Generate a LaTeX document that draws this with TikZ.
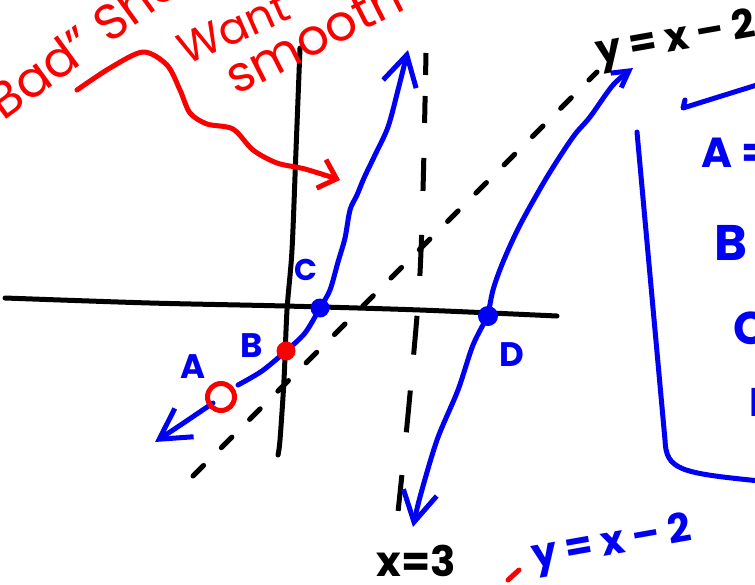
\documentclass[tikz,border=0pt]{standalone}
\usepackage{fontspec}
\setmainfont{Poppins}
\usetikzlibrary{arrows.meta}
\definecolor{inkblue}{RGB}{0,0,245}
\definecolor{inkred}{RGB}{250,0,0}

\begin{document}
\begin{tikzpicture}[x=1pt, y=-1pt, line width=5pt, line cap=round, line join=round,
  >={Straight Barb[length=30pt,width=34pt]},
  k/.style={draw=black}, bl/.style={draw=inkblue}, rd/.style={draw=inkred},
  lbl/.style={inner sep=0pt, text=inkblue, font=\bfseries\fontsize{34}{34}\selectfont},
  big/.style={inner sep=0pt, font=\bfseries\fontsize{40}{40}\selectfont},
  note/.style={inner sep=0pt, text=inkred, anchor=base west},
  dotb/.style={circle, fill=inkblue, inner sep=0pt, minimum size=19pt},
  dotr/.style={circle, fill=inkred, inner sep=0pt, minimum size=19pt},
  hole/.style={circle, draw=inkred, inner sep=0pt, minimum size=27pt}]
  \useasboundingbox (0,0) rectangle (755,584);
  \clip (0,0) rectangle (755,584);
  % axes
  \draw[k] plot[smooth] coordinates {(5,298) (150,303) (285,306) (420,310) (557,316)};
  \draw[k] plot[smooth] coordinates {(300,48) (296,150) (292,250) (287,310) (284,380) (280,440) (278,455)};
  % asymptotes: x=3 and y=x-2
  \draw[k, line cap=butt, dash pattern=on 22pt off 21pt on 27pt off 35pt on 33pt off 44pt on 41pt off 40pt on 39pt off 36pt on 42pt off 43pt on 36pt off 60pt]
    plot[smooth] coordinates {(426,53) (423,190) (419,290) (408,415) (398,512)};
  \coordinate (dS) at (193,476);
  \coordinate (dE) at (597,72);
  \draw[k, dash pattern=on 15pt off 25pt] (dS) -- (dE);
  % graph points
  \coordinate (cA) at (221,397);
  \coordinate (cB) at (286,351);
  \coordinate (cC) at (320,308);
  \coordinate (cD) at (488,316);
  \coordinate (tipL) at (155,442);
  \coordinate (tipT) at (408,50);
  \coordinate (tipR) at (633,68);
  \coordinate (tipB) at (413,527);
  % left branch
  \draw[bl, ->] plot[smooth] coordinates {(213,403) (185,422) (tipL)};
  \draw[bl, ->] plot[smooth] coordinates {(238,385) (262,371) (cB) (305,333) (cC) (330,290)
    (338,262) (345,238) (350,210) (357,195) (364,178) (375,155) (388,127) (398,90) (tipT)};
  % right branch
  \draw[bl, -{Straight Barb[length=16pt,width=18pt]}] plot[smooth] coordinates {(cD) (493,290) (503,262)
    (520,225) (547,177) (573,137) (590,117) (613,85) (tipR)};
  \draw[bl, ->] plot[smooth] coordinates {(cD) (473,345) (458,390) (437,440) (420,497) (tipB)};
  \node[hole] (ptA) at (cA) {};
  \node[dotr] (ptB) at (cB) {};
  \node[dotb] (ptC) at (cC) {};
  \node[dotb, minimum size=20pt] (ptD) at (cD) {};
  \node[lbl] (lA) at (193,367) {A};
  \node[lbl] (lB) at (252,346) {B};
  \node[lbl, font=\bfseries\fontsize{30}{30}\selectfont] (lC) at (306,270) {C};
  \node[lbl] (lD) at (512,355) {D};
  % equations
  \node[big, rotate=10] (eqT) at (676,41) {y = x – 2};
  \node[big, font=\bfseries\fontsize{42}{42}\selectfont] (eqX) at (416,561) {x=3};
  \node[big, text=inkblue, rotate=10] (eqB) at (612,545) {y = x – 2};
  \draw[rd] (508,580) -- (519,570);
  % answer box
  \draw[bl] (685,100) -- (683,108) -- (760,84);
  \draw[bl] (637,132) -- (665,440) .. controls (666,470) and (680,473) .. (760,481);
  \node[lbl, anchor=west, font=\bfseries\fontsize{42}{42}\selectfont] (bA) at (699,153) {A =};
  \node[lbl, font=\bfseries\fontsize{50}{50}\selectfont] (bB) at (731,243) {B};
  \node[lbl, anchor=west, font=\bfseries\fontsize{46}{46}\selectfont] (bC) at (731,328) {C};
  \node[lbl, anchor=west, font=\bfseries\fontsize{40}{40}\selectfont] (bD) at (747,402) {D};
  % red remark
  \node[note, rotate=36, font=\fontsize{50}{50}\selectfont] (bad) at (-14,134) {“Bad” Shape};
  \node[note, rotate=24, font=\fontsize{44}{44}\selectfont] (want) at (184,67) {Want};
  \node[note, rotate=27, font=\fontsize{50}{50}\selectfont] (smooth) at (234,97) {smooth};
  \coordinate (sqS) at (77,90);
  \coordinate (sqE) at (340,180);
  \draw[rd, -{Straight Barb[length=16pt,width=30pt]}] plot[smooth] coordinates {(sqS) (110,68) (143,52)
    (167,65) (180,90) (190,113) (207,124) (233,129) (253,150) (277,163) (305,169) (sqE)};
\end{tikzpicture}
\end{document}
